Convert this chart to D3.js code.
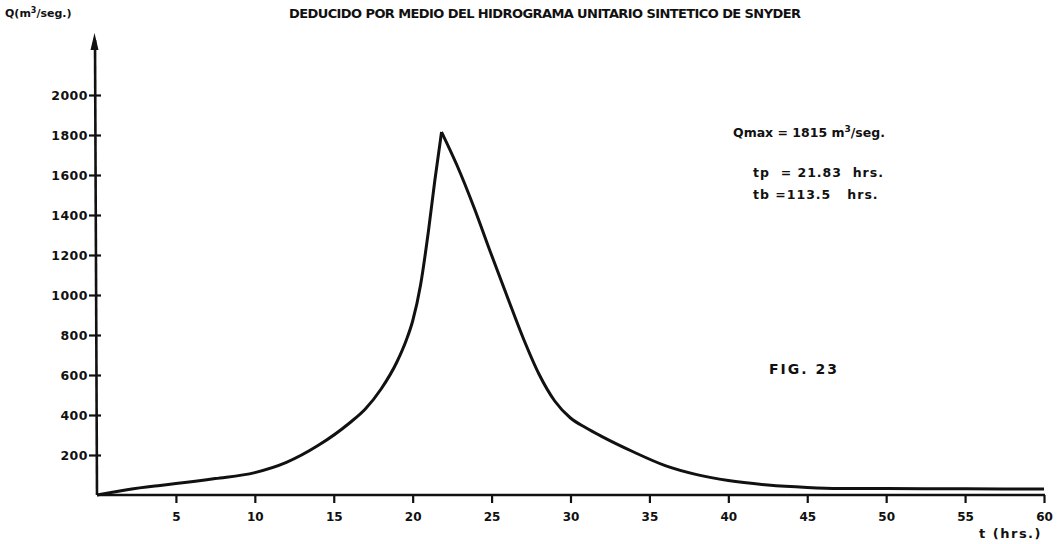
<!DOCTYPE html>
<html>
<head>
<meta charset="utf-8">
<title>Hidrograma unitario sintetico de Snyder</title>
<style>
  body { margin: 0; background: #fff; }
  svg text { font-family: "DejaVu Sans", "Liberation Sans", sans-serif; font-weight: bold; fill: #111; }
</style>
</head>
<body>
<script src="https://cdn.jsdelivr.net/npm/d3@7"></script>
<script>
  // hydrograph: time (hrs) and discharge (m3/seg)
  var tHrs = [0, 2, 4, 5, 7.5, 10, 12, 14, 16, 17, 18, 19, 19.6, 20, 20.5, 21, 21.4, 21.83,
              22.8, 23.9, 24.9, 26, 27, 28, 29, 30, 31, 32, 34, 36, 38, 40, 42.5, 45, 47, 50, 55, 60];
  var qVals = [0, 28, 48, 57, 82, 112, 163, 247, 360, 430, 530, 665, 775, 870, 1050, 1320, 1570, 1815,
               1650, 1435, 1220, 990, 785, 605, 470, 385, 335, 292, 215, 147, 102, 72, 50, 38, 33, 32, 31, 30];
  var xTicks = [5, 10, 15, 20, 25, 30, 35, 40, 45, 50, 55, 60];
  var xTickLabels = ["5", "10", "15", "20", "25", "30", "35", "40", "45", "50", "55", "60"];
  var yTicks = [200, 400, 600, 800, 1000, 1200, 1400, 1600, 1800, 2000];
  var yTickLabels = ["200", "400", "600", "800", "1000", "1200", "1400", "1600", "1800", "2000"];

  var width = 1063, height = 544;
  var x = d3.scaleLinear().domain([0, 60]).range([97, 1044]);
  var y = d3.scaleLinear().domain([0, 2000]).range([495, 95]);

  var svg = d3.select("body").append("svg")
    .attr("width", width)
    .attr("height", height);

  // title and axis names
  svg.append("text")
    .attr("x", 545).attr("y", 18)
    .attr("text-anchor", "middle")
    .attr("textLength", 512)
    .style("font-size", "13px")
    .text("DEDUCIDO POR MEDIO DEL HIDROGRAMA UNITARIO SINTETICO DE SNYDER");

  var ql = svg.append("text")
    .attr("x", 5).attr("y", 17)
    .style("font-size", "11px");
  ql.append("tspan").text("Q(m");
  ql.append("tspan").attr("dy", -4).style("font-size", "8px").text("3");
  ql.append("tspan").attr("dy", 4).text("/seg.)");

  svg.append("text")
    .attr("x", 1042).attr("y", 538)
    .attr("text-anchor", "end")
    .style("font-size", "13px")
    .style("letter-spacing", "1.5px")
    .text("t (hrs.)");

  // x axis
  var gx = svg.append("g")
    .attr("transform", "translate(0," + y(0) + ")")
    .call(d3.axisBottom(x).tickValues(xTicks).tickSize(8).tickPadding(9)
      .tickFormat(function (d, i) { return xTickLabels[i]; }));
  gx.select(".domain").remove();
  gx.selectAll(".tick line").attr("stroke", "#111").attr("stroke-width", 2.2);
  gx.selectAll(".tick text")
    .style("font-size", "12px")
    .style("font-family", "DejaVu Sans, sans-serif")
    .style("font-weight", "bold")
    .attr("fill", "#111");
  svg.append("line")
    .attr("x1", x(0)).attr("x2", x(60) + 1)
    .attr("y1", y(0)).attr("y2", y(0))
    .attr("stroke", "#111").attr("stroke-width", 2.6);

  // y axis
  var gy = svg.append("g")
    .attr("transform", "translate(" + x(0) + ",0)")
    .call(d3.axisLeft(y).tickValues(yTicks).tickSize(8).tickPadding(2)
      .tickFormat(function (d, i) { return yTickLabels[i]; }));
  gy.select(".domain").remove();
  gy.selectAll(".tick line").attr("x2", 4).attr("x1", -8)
    .attr("stroke", "#111").attr("stroke-width", 2.2);
  gy.selectAll(".tick text")
    .attr("x", -9)
    .style("font-size", "12.5px")
    .style("font-family", "DejaVu Sans, sans-serif")
    .style("font-weight", "bold")
    .style("letter-spacing", "0.5px")
    .attr("fill", "#111");
  svg.append("line")
    .attr("x1", x(0)).attr("x2", x(0) - 2)
    .attr("y1", y(0)).attr("y2", 40)
    .attr("stroke", "#111").attr("stroke-width", 2.6);
  svg.append("path")
    .attr("d", "M" + (x(0) - 6.5) + ",50 L" + (x(0) - 2.5) + ",33 L" + (x(0) + 1.5) + ",50 Z")
    .attr("fill", "#111");

  // hydrograph: rising and falling limbs drawn separately to keep the sharp peak
  var pts = tHrs.map(function (t, i) { return [t, qVals[i]]; });
  var iPeak = d3.maxIndex(qVals);
  var line = d3.line()
    .x(function (d) { return x(d[0]); })
    .y(function (d) { return y(d[1]); })
    .curve(d3.curveMonotoneX);
  [pts.slice(0, iPeak + 1), pts.slice(iPeak)].forEach(function (seg) {
    svg.append("path")
      .attr("d", line(seg))
      .attr("fill", "none")
      .attr("stroke", "#111")
      .attr("stroke-width", 3)
      .attr("stroke-linejoin", "miter");
  });

  // annotations
  var qm = svg.append("text")
    .attr("x", 733).attr("y", 137)
    .style("font-size", "12.5px");
  qm.append("tspan").text("Qmax = 1815  m");
  qm.append("tspan").attr("dy", -5).style("font-size", "9px").text("3");
  qm.append("tspan").attr("dy", 5).text("/seg.");

  svg.append("text")
    .attr("x", 753).attr("y", 177)
    .attr("xml:space", "preserve")
    .style("font-size", "12.5px")
    .style("letter-spacing", "1px")
    .text("tp  = 21.83  hrs.");

  svg.append("text")
    .attr("x", 753).attr("y", 199)
    .attr("xml:space", "preserve")
    .style("font-size", "12.5px")
    .style("letter-spacing", "1px")
    .text("tb =113.5   hrs.");

  svg.append("text")
    .attr("x", 769).attr("y", 374)
    .style("font-size", "14px")
    .style("letter-spacing", "2px")
    .text("FIG. 23");
</script>
</body>
</html>
